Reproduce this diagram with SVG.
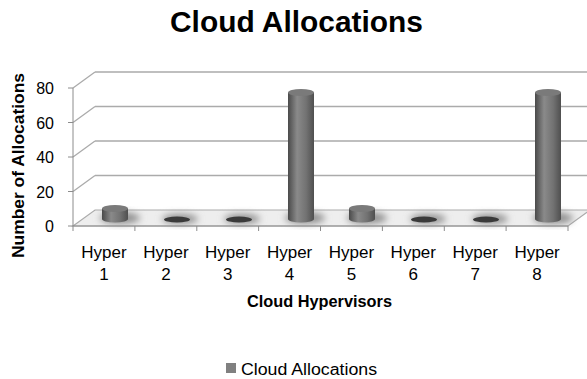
<svg xmlns="http://www.w3.org/2000/svg" width="587" height="379" viewBox="0 0 587 379">
<style>
.t{font-family:"Liberation Sans",Arial,sans-serif;fill:#000}
.b{font-weight:bold}
.grid{stroke:#ababab;stroke-width:1.3;fill:none}
.axis{stroke:#8c8c8c;stroke-width:1;fill:none}
.cat{font-size:17px;text-anchor:middle}
.val{font-size:16px;text-anchor:end}
</style>
<defs>
<linearGradient id="cyl" x1="0" y1="0" x2="1" y2="0">
<stop offset="0" stop-color="#4a4a4a"/>
<stop offset="0.35" stop-color="#8a8a8a"/>
<stop offset="0.7" stop-color="#727272"/>
<stop offset="1" stop-color="#4f4f4f"/>
</linearGradient>
<filter id="blur" x="-50%" y="-50%" width="200%" height="200%"><feGaussianBlur stdDeviation="3.5"/></filter>
</defs>
<rect width="587" height="379" fill="#fff"/>
<text class="t b" x="296.5" y="32" font-size="29" text-anchor="middle" textLength="253" lengthAdjust="spacingAndGlyphs">Cloud Allocations</text>
<g id="walls">
<path class="grid" d="M95,72H587M95,106.5H587M95,141H587M95,175.5H587"/>
<path class="grid" d="M73,88L95,72M73,122.5L95,106.5M73,157L95,141M73,191.5L95,175.5"/>
<path d="M73,226L95,210H590L568,226Z" fill="#eeeeee" stroke="#ababab" stroke-width="1.2"/>
</g>
<g id="shadows" filter="url(#blur)" fill="#8f8f8f">
<ellipse cx="120" cy="218" rx="20" ry="6"/>
<ellipse cx="180" cy="219" rx="18" ry="5"/>
<ellipse cx="242" cy="219" rx="18" ry="5"/>
<ellipse cx="305" cy="218" rx="20" ry="6"/>
<ellipse cx="367" cy="218" rx="20" ry="6"/>
<ellipse cx="428" cy="219" rx="18" ry="5"/>
<ellipse cx="490" cy="219" rx="18" ry="5"/>
<ellipse cx="553" cy="218" rx="20" ry="6"/>
</g>
<g id="axes">
<path class="axis" d="M73,88V226H568"/>
<path class="axis" d="M68,88H73M68,122.5H73M68,157H73M68,191.5H73M68,226H73"/>
<path class="axis" d="M73,226V231M134.9,226V231M196.8,226V231M258.6,226V231M320.5,226V231M382.4,226V231M444.3,226V231M506.1,226V231M568,226V231"/>
<text class="t val" x="54" y="94">80</text>
<text class="t val" x="54" y="128.5">60</text>
<text class="t val" x="54" y="163">40</text>
<text class="t val" x="54" y="197.5">20</text>
<text class="t val" x="54" y="232">0</text>
</g>
<g id="bar1"><rect x="102" y="208.5" width="26" height="10.5" fill="url(#cyl)"/><ellipse cx="115" cy="219" rx="13" ry="3.5" fill="url(#cyl)"/><ellipse cx="115" cy="208.5" rx="13" ry="3.5" fill="#7a7a7a"/></g>
<g id="bar2"><ellipse cx="177" cy="219.5" rx="13" ry="3" fill="#3a3a3a"/></g>
<g id="bar3"><ellipse cx="239" cy="219.5" rx="13" ry="3" fill="#3a3a3a"/></g>
<g id="bar4"><rect x="288" y="92.5" width="26" height="126.5" fill="url(#cyl)"/><ellipse cx="301" cy="219" rx="13" ry="3.5" fill="url(#cyl)"/><ellipse cx="301" cy="92.5" rx="13" ry="3.5" fill="#7a7a7a"/></g>
<g id="bar5"><rect x="349" y="208.5" width="26" height="10.5" fill="url(#cyl)"/><ellipse cx="362" cy="219" rx="13" ry="3.5" fill="url(#cyl)"/><ellipse cx="362" cy="208.5" rx="13" ry="3.5" fill="#7a7a7a"/></g>
<g id="bar6"><ellipse cx="424" cy="219.5" rx="13" ry="3" fill="#3a3a3a"/></g>
<g id="bar7"><ellipse cx="486" cy="219.5" rx="13" ry="3" fill="#3a3a3a"/></g>
<g id="bar8"><rect x="535" y="92.5" width="26" height="126.5" fill="url(#cyl)"/><ellipse cx="548" cy="219" rx="13" ry="3.5" fill="url(#cyl)"/><ellipse cx="548" cy="92.5" rx="13" ry="3.5" fill="#7a7a7a"/></g>
<g id="labels">
<text class="t cat" x="104" y="258">Hyper</text><text class="t cat" x="104" y="280">1</text>
<text class="t cat" x="165.9" y="258">Hyper</text><text class="t cat" x="165.9" y="280">2</text>
<text class="t cat" x="227.7" y="258">Hyper</text><text class="t cat" x="227.7" y="280">3</text>
<text class="t cat" x="289.6" y="258">Hyper</text><text class="t cat" x="289.6" y="280">4</text>
<text class="t cat" x="351.5" y="258">Hyper</text><text class="t cat" x="351.5" y="280">5</text>
<text class="t cat" x="413.3" y="258">Hyper</text><text class="t cat" x="413.3" y="280">6</text>
<text class="t cat" x="475.2" y="258">Hyper</text><text class="t cat" x="475.2" y="280">7</text>
<text class="t cat" x="537.1" y="258">Hyper</text><text class="t cat" x="537.1" y="280">8</text>
<text class="t b" x="319.5" y="307" font-size="16" text-anchor="middle" textLength="145" lengthAdjust="spacingAndGlyphs">Cloud Hypervisors</text>
<text class="t b" transform="translate(24,165.5) rotate(-90)" font-size="16" text-anchor="middle" textLength="185" lengthAdjust="spacingAndGlyphs">Number of Allocations</text>
</g>
<g id="legend">
<rect x="226" y="363" width="10" height="10" fill="#808080"/>
<text class="t" x="241" y="375" font-size="16" textLength="136" lengthAdjust="spacingAndGlyphs">Cloud Allocations</text>
</g>
</svg>
